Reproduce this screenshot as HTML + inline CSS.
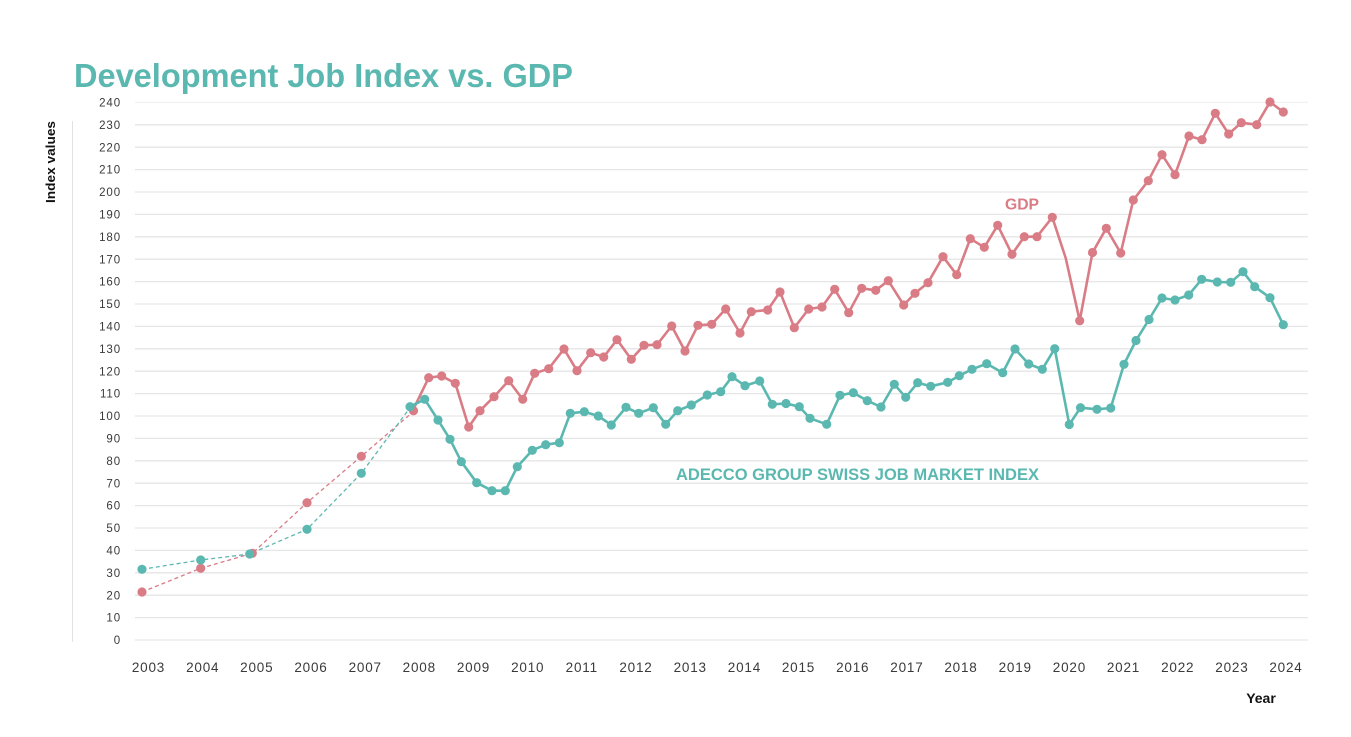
<!DOCTYPE html>
<html>
<head>
<meta charset="utf-8">
<style>
  html, body { margin:0; padding:0; background:#ffffff; }
  svg { display:block; }
  text { font-family: "Liberation Sans", "DejaVu Sans", sans-serif; }
</style>
</head>
<body>
<svg width="1351" height="737" viewBox="0 0 1351 737" xmlns="http://www.w3.org/2000/svg">
  <rect x="0" y="0" width="1351" height="737" fill="#ffffff"/>

  <!-- Title -->
  <text x="74" y="87" font-size="33" font-weight="bold" fill="#5bb8b0" textLength="499" lengthAdjust="spacingAndGlyphs">Development Job Index vs. GDP</text>

  <!-- Y axis line -->
  <line x1="72.5" y1="121" x2="72.5" y2="642" stroke="#e2e2e2" stroke-width="1"/>

  <!-- Y axis title -->
  <text transform="translate(55,162) rotate(-90)" text-anchor="middle" font-size="13" font-weight="bold" fill="#111" textLength="82" lengthAdjust="spacingAndGlyphs">Index values</text>

  <!-- Gridlines -->
  <g stroke="#e6e6e6" stroke-width="1.3">
    <line x1="135" y1="102.4" x2="1308" y2="102.4" stroke="#f1f1f1"/>
    <line x1="135" y1="124.8" x2="1308" y2="124.8"/>
    <line x1="135" y1="147.2" x2="1308" y2="147.2"/>
    <line x1="135" y1="169.6" x2="1308" y2="169.6"/>
    <line x1="135" y1="192" x2="1308" y2="192"/>
    <line x1="135" y1="214.4" x2="1308" y2="214.4"/>
    <line x1="135" y1="236.8" x2="1308" y2="236.8"/>
    <line x1="135" y1="259.2" x2="1308" y2="259.2"/>
    <line x1="135" y1="281.6" x2="1308" y2="281.6"/>
    <line x1="135" y1="304" x2="1308" y2="304"/>
    <line x1="135" y1="326.4" x2="1308" y2="326.4"/>
    <line x1="135" y1="348.8" x2="1308" y2="348.8"/>
    <line x1="135" y1="371.2" x2="1308" y2="371.2"/>
    <line x1="135" y1="393.6" x2="1308" y2="393.6"/>
    <line x1="135" y1="416" x2="1308" y2="416"/>
    <line x1="135" y1="438.4" x2="1308" y2="438.4"/>
    <line x1="135" y1="460.8" x2="1308" y2="460.8"/>
    <line x1="135" y1="483.2" x2="1308" y2="483.2"/>
    <line x1="135" y1="505.6" x2="1308" y2="505.6"/>
    <line x1="135" y1="528" x2="1308" y2="528"/>
    <line x1="135" y1="550.4" x2="1308" y2="550.4"/>
    <line x1="135" y1="572.8" x2="1308" y2="572.8"/>
    <line x1="135" y1="595.2" x2="1308" y2="595.2"/>
    <line x1="135" y1="617.6" x2="1308" y2="617.6"/>
    <line x1="135" y1="640" x2="1308" y2="640"/>
  </g>

  <!-- Y tick labels -->
  <g font-size="11.5" fill="#3a3a3a" text-anchor="end" letter-spacing="0.9">
    <text x="121" y="106.5">240</text>
    <text x="121" y="128.9">230</text>
    <text x="121" y="151.3">220</text>
    <text x="121" y="173.7">210</text>
    <text x="121" y="196.1">200</text>
    <text x="121" y="218.5">190</text>
    <text x="121" y="240.9">180</text>
    <text x="121" y="263.3">170</text>
    <text x="121" y="285.7">160</text>
    <text x="121" y="308.1">150</text>
    <text x="121" y="330.5">140</text>
    <text x="121" y="352.9">130</text>
    <text x="121" y="375.3">120</text>
    <text x="121" y="397.7">110</text>
    <text x="121" y="420.1">100</text>
    <text x="121" y="442.5">90</text>
    <text x="121" y="464.9">80</text>
    <text x="121" y="487.3">70</text>
    <text x="121" y="509.7">60</text>
    <text x="121" y="532.1">50</text>
    <text x="121" y="554.5">40</text>
    <text x="121" y="576.9">30</text>
    <text x="121" y="599.3">20</text>
    <text x="121" y="621.7">10</text>
    <text x="121" y="644.1">0</text>
  </g>

  <!-- X tick labels -->
  <g font-size="13.5" fill="#3a3a3a" text-anchor="middle" letter-spacing="0.8">
    <text x="148.5" y="672">2003</text>
    <text x="202.7" y="672">2004</text>
    <text x="256.8" y="672">2005</text>
    <text x="311" y="672">2006</text>
    <text x="365.2" y="672">2007</text>
    <text x="419.3" y="672">2008</text>
    <text x="473.5" y="672">2009</text>
    <text x="527.7" y="672">2010</text>
    <text x="581.8" y="672">2011</text>
    <text x="636" y="672">2012</text>
    <text x="690.2" y="672">2013</text>
    <text x="744.4" y="672">2014</text>
    <text x="798.5" y="672">2015</text>
    <text x="852.7" y="672">2016</text>
    <text x="906.9" y="672">2017</text>
    <text x="961" y="672">2018</text>
    <text x="1015.2" y="672">2019</text>
    <text x="1069.4" y="672">2020</text>
    <text x="1123.5" y="672">2021</text>
    <text x="1177.7" y="672">2022</text>
    <text x="1231.9" y="672">2023</text>
    <text x="1286" y="672">2024</text>
  </g>

  <!-- X axis title -->
  <text x="1261" y="703" text-anchor="middle" font-size="14" font-weight="bold" fill="#111">Year</text>

  <!-- Dashed early segments -->
  <polyline fill="none" stroke="#d97c86" stroke-width="1.3" stroke-dasharray="4,3"
    points="142,592 200.7,568.3 252.3,553.3 307,502.7 361.3,456.3 414,411"/>
  <polyline fill="none" stroke="#5bb8b0" stroke-width="1.3" stroke-dasharray="4,3"
    points="142,569.3 200.7,560 249.7,554 307,529.3 361.3,473.3 410.3,407.3"/>

  <!-- GDP solid -->
  <polyline fill="none" stroke="#d97c86" stroke-width="2.6" stroke-linejoin="round"
    points="412.7,410.7 428.7,377.7 441.7,376 455.3,383.3 468.7,427 480,410.7 494,396.7 508.7,380.7 522.7,399.3 534.7,373.3 548.7,368.7 564,349 577,370.7 590.7,352.7 603.7,357 617,339.7 631.3,359.3 644,345.3 657,344.7 671.7,326 685,351 698,325.3 711.7,324.3 725.7,309 740,333 751.3,311.7 767.7,310 780,292 794.3,327.7 808.7,309 822,307 834.7,289.3 848.7,312.7 861.7,288.3 875.7,290.3 888.3,280.7 903.7,305 915,293.3 928,282.7 943,256.7 956.7,274.7 970.3,238.7 984.3,247.3 997.7,225.3 1012,254.3 1024.3,236.7 1037,236.7 1052.3,217.3 1065.7,258 1079.7,320.7 1092.5,252.5 1106.3,228.3 1120.7,253 1133.3,200 1148.3,180.7 1162,154.7 1175,174.7 1189,136 1202,139.7 1215.3,113.3 1228.7,134 1241.3,122.7 1256.7,124.7 1270,102 1283.3,112"/>

  <!-- Job solid -->
  <polyline fill="none" stroke="#5bb8b0" stroke-width="2.6" stroke-linejoin="round"
    points="410,406.7 424.7,399.3 438,420 450,439.3 461.3,461.7 476.7,482.7 492,490.7 505.3,490.7 517.3,466.7 532.3,450.3 545.7,444.7 559.3,442.7 570.3,413.3 584.3,411.7 598.3,416 611.3,425 626,407.3 638.7,413.3 653.3,407.7 665.7,424.3 677.7,410.7 691.3,405 707.3,395 720.7,391.7 732,376.7 745,385.7 759.7,381 772.3,404.3 786,403.5 799.3,406.7 810,418.3 826.7,424.3 840,395.3 853.3,392.7 867.3,400.7 881,407 894.3,384.3 905.7,397.3 917.7,382.7 930.7,386.3 947.7,382.3 959.3,375.7 972,369.3 986.7,363.7 1002.7,372.7 1015,349 1028.7,364 1042.3,369.3 1054.7,348.7 1069.3,424.5 1080.5,407.7 1097,409.3 1110.7,408 1124,364.3 1136,340.5 1149,319.5 1162,298 1175,300 1188.7,295 1201.7,279.3 1217.3,282 1230.7,282.3 1243,271.7 1254.7,286.7 1270,297.7 1283.3,324.7"/>

  <!-- GDP markers -->
  <g fill="#d97c86">
    <circle cx="142" cy="592" r="4.6"/><circle cx="200.7" cy="568.3" r="4.6"/><circle cx="252.3" cy="553.3" r="4.6"/><circle cx="307" cy="502.7" r="4.6"/><circle cx="361.3" cy="456.3" r="4.6"/>
    <circle cx="413.5" cy="410.8" r="4.6"/><circle cx="428.7" cy="377.7" r="4.6"/><circle cx="441.7" cy="376" r="4.6"/><circle cx="455.3" cy="383.3" r="4.6"/><circle cx="468.7" cy="427" r="4.6"/><circle cx="480" cy="410.7" r="4.6"/><circle cx="494" cy="396.7" r="4.6"/><circle cx="508.7" cy="380.7" r="4.6"/><circle cx="522.7" cy="399.3" r="4.6"/><circle cx="534.7" cy="373.3" r="4.6"/><circle cx="548.7" cy="368.7" r="4.6"/><circle cx="564" cy="349" r="4.6"/><circle cx="577" cy="370.7" r="4.6"/><circle cx="590.7" cy="352.7" r="4.6"/><circle cx="603.7" cy="357" r="4.6"/><circle cx="617" cy="339.7" r="4.6"/><circle cx="631.3" cy="359.3" r="4.6"/><circle cx="644" cy="345.3" r="4.6"/><circle cx="657" cy="344.7" r="4.6"/><circle cx="671.7" cy="326" r="4.6"/><circle cx="685" cy="351" r="4.6"/><circle cx="698" cy="325.3" r="4.6"/><circle cx="711.7" cy="324.3" r="4.6"/><circle cx="725.7" cy="309" r="4.6"/><circle cx="740" cy="333" r="4.6"/><circle cx="751.3" cy="311.7" r="4.6"/><circle cx="767.7" cy="310" r="4.6"/><circle cx="780" cy="292" r="4.6"/><circle cx="794.3" cy="327.7" r="4.6"/><circle cx="808.7" cy="309" r="4.6"/><circle cx="822" cy="307" r="4.6"/><circle cx="834.7" cy="289.3" r="4.6"/><circle cx="848.7" cy="312.7" r="4.6"/><circle cx="861.7" cy="288.3" r="4.6"/><circle cx="875.7" cy="290.3" r="4.6"/><circle cx="888.3" cy="280.7" r="4.6"/><circle cx="903.7" cy="305" r="4.6"/><circle cx="915" cy="293.3" r="4.6"/><circle cx="928" cy="282.7" r="4.6"/><circle cx="943" cy="256.7" r="4.6"/><circle cx="956.7" cy="274.7" r="4.6"/><circle cx="970.3" cy="238.7" r="4.6"/><circle cx="984.3" cy="247.3" r="4.6"/><circle cx="997.7" cy="225.3" r="4.6"/><circle cx="1012" cy="254.3" r="4.6"/><circle cx="1024.3" cy="236.7" r="4.6"/><circle cx="1037" cy="236.7" r="4.6"/><circle cx="1052.3" cy="217.3" r="4.6"/><circle cx="1079.7" cy="320.7" r="4.6"/><circle cx="1092.5" cy="252.5" r="4.6"/><circle cx="1106.3" cy="228.3" r="4.6"/><circle cx="1120.7" cy="253" r="4.6"/><circle cx="1133.3" cy="200" r="4.6"/><circle cx="1148.3" cy="180.7" r="4.6"/><circle cx="1162" cy="154.7" r="4.6"/><circle cx="1175" cy="174.7" r="4.6"/><circle cx="1189" cy="136" r="4.6"/><circle cx="1202" cy="139.7" r="4.6"/><circle cx="1215.3" cy="113.3" r="4.6"/><circle cx="1228.7" cy="134" r="4.6"/><circle cx="1241.3" cy="122.7" r="4.6"/><circle cx="1256.7" cy="124.7" r="4.6"/><circle cx="1270" cy="102" r="4.6"/><circle cx="1283.3" cy="112" r="4.6"/>
  </g>

  <!-- Job markers -->
  <g fill="#5bb8b0">
    <circle cx="142" cy="569.3" r="4.6"/><circle cx="200.7" cy="560" r="4.6"/><circle cx="249.7" cy="554" r="4.6"/><circle cx="307" cy="529.3" r="4.6"/><circle cx="361.3" cy="473.3" r="4.6"/>
    <circle cx="410" cy="406.7" r="4.6"/><circle cx="424.7" cy="399.3" r="4.6"/><circle cx="438" cy="420" r="4.6"/><circle cx="450" cy="439.3" r="4.6"/><circle cx="461.3" cy="461.7" r="4.6"/><circle cx="476.7" cy="482.7" r="4.6"/><circle cx="492" cy="490.7" r="4.6"/><circle cx="505.3" cy="490.7" r="4.6"/><circle cx="517.3" cy="466.7" r="4.6"/><circle cx="532.3" cy="450.3" r="4.6"/><circle cx="545.7" cy="444.7" r="4.6"/><circle cx="559.3" cy="442.7" r="4.6"/><circle cx="570.3" cy="413.3" r="4.6"/><circle cx="584.3" cy="411.7" r="4.6"/><circle cx="598.3" cy="416" r="4.6"/><circle cx="611.3" cy="425" r="4.6"/><circle cx="626" cy="407.3" r="4.6"/><circle cx="638.7" cy="413.3" r="4.6"/><circle cx="653.3" cy="407.7" r="4.6"/><circle cx="665.7" cy="424.3" r="4.6"/><circle cx="677.7" cy="410.7" r="4.6"/><circle cx="691.3" cy="405" r="4.6"/><circle cx="707.3" cy="395" r="4.6"/><circle cx="720.7" cy="391.7" r="4.6"/><circle cx="732" cy="376.7" r="4.6"/><circle cx="745" cy="385.7" r="4.6"/><circle cx="759.7" cy="381" r="4.6"/><circle cx="772.3" cy="404.3" r="4.6"/><circle cx="786" cy="403.5" r="4.6"/><circle cx="799.3" cy="406.7" r="4.6"/><circle cx="810" cy="418.3" r="4.6"/><circle cx="826.7" cy="424.3" r="4.6"/><circle cx="840" cy="395.3" r="4.6"/><circle cx="853.3" cy="392.7" r="4.6"/><circle cx="867.3" cy="400.7" r="4.6"/><circle cx="881" cy="407" r="4.6"/><circle cx="894.3" cy="384.3" r="4.6"/><circle cx="905.7" cy="397.3" r="4.6"/><circle cx="917.7" cy="382.7" r="4.6"/><circle cx="930.7" cy="386.3" r="4.6"/><circle cx="947.7" cy="382.3" r="4.6"/><circle cx="959.3" cy="375.7" r="4.6"/><circle cx="972" cy="369.3" r="4.6"/><circle cx="986.7" cy="363.7" r="4.6"/><circle cx="1002.7" cy="372.7" r="4.6"/><circle cx="1015" cy="349" r="4.6"/><circle cx="1028.7" cy="364" r="4.6"/><circle cx="1042.3" cy="369.3" r="4.6"/><circle cx="1054.7" cy="348.7" r="4.6"/><circle cx="1069.3" cy="424.5" r="4.6"/><circle cx="1080.5" cy="407.7" r="4.6"/><circle cx="1097" cy="409.3" r="4.6"/><circle cx="1110.7" cy="408" r="4.6"/><circle cx="1124" cy="364.3" r="4.6"/><circle cx="1136" cy="340.5" r="4.6"/><circle cx="1149" cy="319.5" r="4.6"/><circle cx="1162" cy="298" r="4.6"/><circle cx="1175" cy="300" r="4.6"/><circle cx="1188.7" cy="295" r="4.6"/><circle cx="1201.7" cy="279.3" r="4.6"/><circle cx="1217.3" cy="282" r="4.6"/><circle cx="1230.7" cy="282.3" r="4.6"/><circle cx="1243" cy="271.7" r="4.6"/><circle cx="1254.7" cy="286.7" r="4.6"/><circle cx="1270" cy="297.7" r="4.6"/><circle cx="1283.3" cy="324.7" r="4.6"/>
  </g>

  <!-- Series labels -->
  <text x="1005" y="209.5" font-size="15.5" font-weight="bold" fill="#d97c86" textLength="34" lengthAdjust="spacingAndGlyphs">GDP</text>
  <text x="676" y="480" font-size="17" font-weight="bold" fill="#5bb8b0" textLength="363" lengthAdjust="spacingAndGlyphs">ADECCO GROUP SWISS JOB MARKET INDEX</text>
</svg>
</body>
</html>
